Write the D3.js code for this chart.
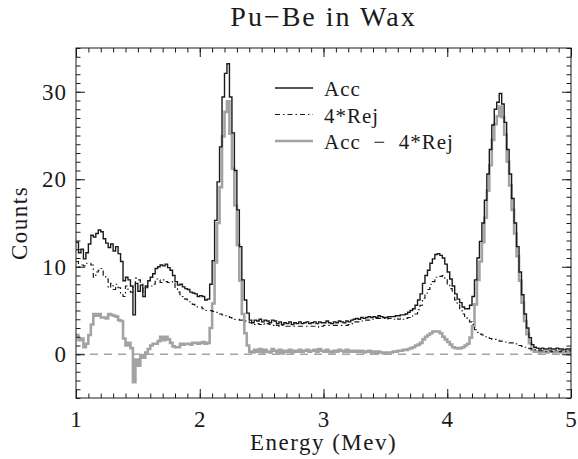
<!DOCTYPE html>
<html>
<head>
<meta charset="utf-8">
<script src="https://cdn.jsdelivr.net/npm/d3@7"></script>
<style>
  body { margin: 0; background: #fff; }
  svg { display: block; font-family: "Liberation Serif", "DejaVu Serif", serif; }
</style>
</head>
<body>
<div id="chart"></div>
<script>
// Histogram bins: 0.02 MeV wide, starting at 1.00 MeV
const binStart = 1.0;
const binWidth = 0.02;

// Acc counts per bin
const acc = [
  12.8, 11.6, 12.0, 10.9, 11.6, 12.6, 13.6, 13.4, 13.8, 14.2,
  14.0, 13.2, 12.7, 12.2, 12.6, 11.8, 12.3, 11.5, 10.6, 8.4,
  8.8, 8.5, 7.8, 4.5, 8.1, 7.2, 7.9, 6.6, 7.8, 8.4,
  8.8, 9.2, 9.8, 10.0, 10.2, 10.1, 10.3, 9.9, 9.6, 9.0,
  8.3, 7.9, 8.0, 7.7, 7.5, 7.4, 7.1, 7.0, 6.9, 6.6,
  6.7, 6.6, 6.2, 6.3, 8.0, 10.7, 15.3, 19.7, 23.7, 29.4,
  32.1, 33.2, 29.4, 25.3, 21.0, 16.5, 12.3, 8.5, 6.2, 4.7,
  3.9, 3.6, 3.9, 3.8, 4.0, 3.7, 3.9, 3.8, 3.6, 3.9,
  3.8, 3.5, 3.7, 3.4, 3.6, 3.5, 3.7, 3.4, 3.6, 3.5,
  3.7, 3.5, 3.6, 3.7, 3.5, 3.6, 3.7, 3.5, 3.7, 3.6,
  3.6, 3.8, 3.6, 3.5, 3.7, 3.6, 3.8, 3.7, 3.6, 3.8,
  3.7, 3.9, 4.0, 4.1, 4.0, 4.2, 4.1, 4.2, 4.3, 4.2,
  4.3, 4.2, 4.4, 4.3, 4.2, 4.2, 4.3, 4.3, 4.3, 4.4,
  4.4, 4.5, 4.5, 4.6, 4.8, 5.0, 5.2, 5.6, 6.2, 6.9,
  8.1, 9.0, 9.6, 10.4, 10.9, 11.4, 11.5, 11.3, 11.0, 10.3,
  9.4, 8.6, 7.8, 6.9, 6.3, 5.9, 5.4, 5.2, 5.2, 5.6,
  6.6, 8.5, 11.0, 12.9, 15.0, 17.6, 20.6, 23.4, 26.2, 28.0,
  28.8, 29.8, 28.6, 26.5, 23.4, 20.6, 17.8, 15.0, 12.3, 9.4,
  6.8, 4.6, 3.0, 1.9, 1.1, 0.8, 0.7, 0.6, 0.7, 0.6,
  0.6, 0.7, 0.6, 0.6, 0.7, 0.6, 0.6, 0.5, 0.6, 0.6
];

// 4*Rej per bin
const rej4 = [
  10.6, 10.0, 10.2, 10.1, 10.4, 10.4, 10.2, 8.8, 9.4, 9.6,
  9.8, 9.0, 8.6, 7.6, 8.1, 7.4, 8.0, 7.6, 6.8, 6.6,
  7.8, 7.2, 7.1, 7.7, 8.7, 8.5, 8.0, 7.0, 7.6, 7.8,
  7.8, 8.0, 8.6, 8.5, 8.2, 8.5, 8.3, 8.2, 8.3, 8.1,
  7.5, 7.1, 6.8, 6.6, 6.3, 6.2, 6.0, 5.7, 5.6, 5.4,
  5.4, 5.2, 5.0, 5.0, 5.0, 4.9, 4.8, 4.7, 4.6, 4.5,
  4.4, 4.3, 4.2, 4.1, 4.0, 4.0, 3.9, 3.9, 3.8, 3.7,
  3.6, 3.4, 3.4, 3.5, 3.4, 3.5, 3.4, 3.5, 3.4, 3.3,
  3.4, 3.3, 3.2, 3.3, 3.2, 3.2, 3.2, 3.2, 3.2, 3.2,
  3.2, 3.2, 3.2, 3.2, 3.2, 3.2, 3.2, 3.2, 3.1, 3.2,
  3.3, 3.3, 3.3, 3.3, 3.3, 3.3, 3.3, 3.3, 3.3, 3.3,
  3.4, 3.5, 3.7, 3.7, 3.7, 3.8, 3.9, 3.9, 3.9, 4.0,
  4.0, 4.1, 4.1, 4.1, 4.1, 4.0, 4.1, 4.1, 4.0, 4.1,
  4.0, 4.1, 4.0, 4.1, 4.2, 4.3, 4.4, 4.6, 5.1, 5.6,
  6.4, 7.0, 7.4, 8.0, 8.3, 8.8, 8.9, 8.9, 9.0, 8.6,
  8.0, 7.5, 7.0, 6.2, 5.65, 5.2, 4.6, 4.2, 4.0, 3.7,
  3.4, 2.8, 2.5, 2.3, 2.2, 2.0, 1.9, 1.8, 1.7, 1.7,
  1.6, 1.5, 1.5, 1.4, 1.4, 1.3, 1.3, 1.2, 1.1, 1.0,
  0.9, 0.8, 0.7, 0.65, 0.6, 0.5, 0.4, 0.4, 0.4, 0.3,
  0.4, 0.4, 0.3, 0.4, 0.4, 0.3, 0.4, 0.3, 0.3, 0.4
];

const xTicks = [1, 2, 3, 4, 5];
const yTicks = [0, 10, 20, 30];
const legendLabels = ["Acc", "4*Rej", "Acc  \u2212  4*Rej"];

const width = 578;
const height = 459;
const margin = { top: 48, right: 7, bottom: 61, left: 76 };
const plotW = width - margin.left - margin.right;
const plotH = height - margin.top - margin.bottom;

const ink = "#1a1a1a";
const grey = "#a3a3a3";

const svg = d3.select("#chart").append("svg")
  .attr("width", width)
  .attr("height", height);

const x = d3.scaleLinear().domain([1, 5]).range([margin.left, margin.left + plotW]);
const y = d3.scaleLinear().domain([-5, 35]).range([margin.top + plotH, margin.top]);

svg.append("defs").append("clipPath").attr("id", "plot-clip")
  .append("rect")
  .attr("x", margin.left).attr("y", margin.top)
  .attr("width", plotW).attr("height", plotH);

// turn a per-bin series into step points (bin edges)
function steps(values) {
  const pts = values.map((v, i) => ({ e: binStart + i * binWidth, v }));
  pts.push({ e: binStart + values.length * binWidth, v: values[values.length - 1] });
  return pts;
}

const diff = acc.map((a, i) => a - rej4[i]);

const line = d3.line()
  .x(d => x(d.e))
  .y(d => y(d.v))
  .curve(d3.curveStepAfter);

const plot = svg.append("g").attr("clip-path", "url(#plot-clip)");

// zero line
plot.append("line")
  .attr("x1", x(1)).attr("x2", x(5))
  .attr("y1", y(0)).attr("y2", y(0))
  .attr("stroke", grey)
  .attr("stroke-width", 1.3)
  .attr("stroke-dasharray", "8,6");

plot.append("path")
  .datum(steps(diff))
  .attr("fill", "none")
  .attr("stroke", grey)
  .attr("stroke-width", 2.6)
  .attr("d", line);

plot.append("path")
  .datum(steps(rej4))
  .attr("fill", "none")
  .attr("stroke", ink)
  .attr("stroke-width", 1.2)
  .attr("stroke-dasharray", "5,3,1.5,3")
  .attr("d", line);

plot.append("path")
  .datum(steps(acc))
  .attr("fill", "none")
  .attr("stroke", ink)
  .attr("stroke-width", 1.4)
  .attr("d", line);

// axes: ticks inside on all four sides
const majorLen = 9;
const minorLen = 4.5;
const xMinor = d3.range(10, 51).map(d => d / 10);
const yMinor = d3.range(-5, 36);

function styleAxis(g) {
  g.select(".domain").remove();
  g.selectAll("line").attr("stroke", ink).attr("stroke-width", 1);
}

svg.append("g")
  .attr("transform", `translate(0,${margin.top + plotH})`)
  .call(d3.axisBottom(x).tickValues(xMinor).tickSize(-minorLen).tickFormat(""))
  .call(styleAxis);
svg.append("g")
  .attr("transform", `translate(0,${margin.top})`)
  .call(d3.axisTop(x).tickValues(xMinor).tickSize(-minorLen).tickFormat(""))
  .call(styleAxis);
svg.append("g")
  .attr("transform", `translate(${margin.left},0)`)
  .call(d3.axisLeft(y).tickValues(yMinor).tickSize(-minorLen).tickFormat(""))
  .call(styleAxis);
svg.append("g")
  .attr("transform", `translate(${margin.left + plotW},0)`)
  .call(d3.axisRight(y).tickValues(yMinor).tickSize(-minorLen).tickFormat(""))
  .call(styleAxis);

const xAxis = svg.append("g")
  .attr("transform", `translate(0,${margin.top + plotH})`)
  .call(d3.axisBottom(x).tickValues(xTicks).tickSize(-majorLen).tickPadding(13).tickFormat(d3.format("d")))
  .call(styleAxis);
svg.append("g")
  .attr("transform", `translate(0,${margin.top})`)
  .call(d3.axisTop(x).tickValues(xTicks).tickSize(-majorLen).tickFormat(""))
  .call(styleAxis);
const yAxis = svg.append("g")
  .attr("transform", `translate(${margin.left},0)`)
  .call(d3.axisLeft(y).tickValues(yTicks).tickSize(-majorLen).tickPadding(9).tickFormat(d3.format("d")))
  .call(styleAxis);
svg.append("g")
  .attr("transform", `translate(${margin.left + plotW},0)`)
  .call(d3.axisRight(y).tickValues(yTicks).tickSize(-majorLen).tickFormat(""))
  .call(styleAxis);

[xAxis, yAxis].forEach(g => g.selectAll("text")
  .attr("fill", ink)
  .style("font-family", '"Liberation Serif", serif')
  .style("font-size", "23px")
  .style("letter-spacing", "1px"));

// frame
svg.append("rect")
  .attr("x", margin.left).attr("y", margin.top)
  .attr("width", plotW).attr("height", plotH)
  .attr("fill", "none")
  .attr("stroke", ink)
  .attr("stroke-width", 1);

// titles
svg.append("text")
  .attr("x", margin.left + plotW / 2)
  .attr("y", 26)
  .attr("text-anchor", "middle")
  .attr("fill", ink)
  .style("font-size", "28px")
  .style("letter-spacing", "2px")
  .text("Pu\u2212Be in Wax");

svg.append("text")
  .attr("x", margin.left + plotW / 2)
  .attr("y", 450)
  .attr("text-anchor", "middle")
  .attr("fill", ink)
  .style("font-size", "23px")
  .style("letter-spacing", "1.5px")
  .text("Energy (Mev)");

svg.append("text")
  .attr("transform", `translate(27,${margin.top + plotH / 2}) rotate(-90)`)
  .attr("text-anchor", "middle")
  .attr("fill", ink)
  .style("font-size", "23px")
  .style("letter-spacing", "1.5px")
  .text("Counts");

// legend
const legendStyles = [
  { stroke: ink, width: 1.4, dash: null },
  { stroke: ink, width: 1.2, dash: "5,3,1.5,3" },
  { stroke: grey, width: 2.6, dash: null }
];
const legend = svg.append("g").attr("transform", "translate(275,88)");
legendLabels.forEach((label, i) => {
  const row = legend.append("g").attr("transform", `translate(0,${i * 26.5})`);
  row.append("line")
    .attr("x1", 0).attr("x2", 38)
    .attr("y1", 0).attr("y2", 0)
    .attr("stroke", legendStyles[i].stroke)
    .attr("stroke-width", legendStyles[i].width)
    .attr("stroke-dasharray", legendStyles[i].dash);
  row.append("text")
    .attr("x", 49)
    .attr("y", 2)
    .attr("dy", "0.3em")
    .attr("fill", ink)
    .style("font-size", "21px")
    .style("letter-spacing", "1px")
    .style("white-space", "pre")
    .text(label);
});
</script>
</body>
</html>
